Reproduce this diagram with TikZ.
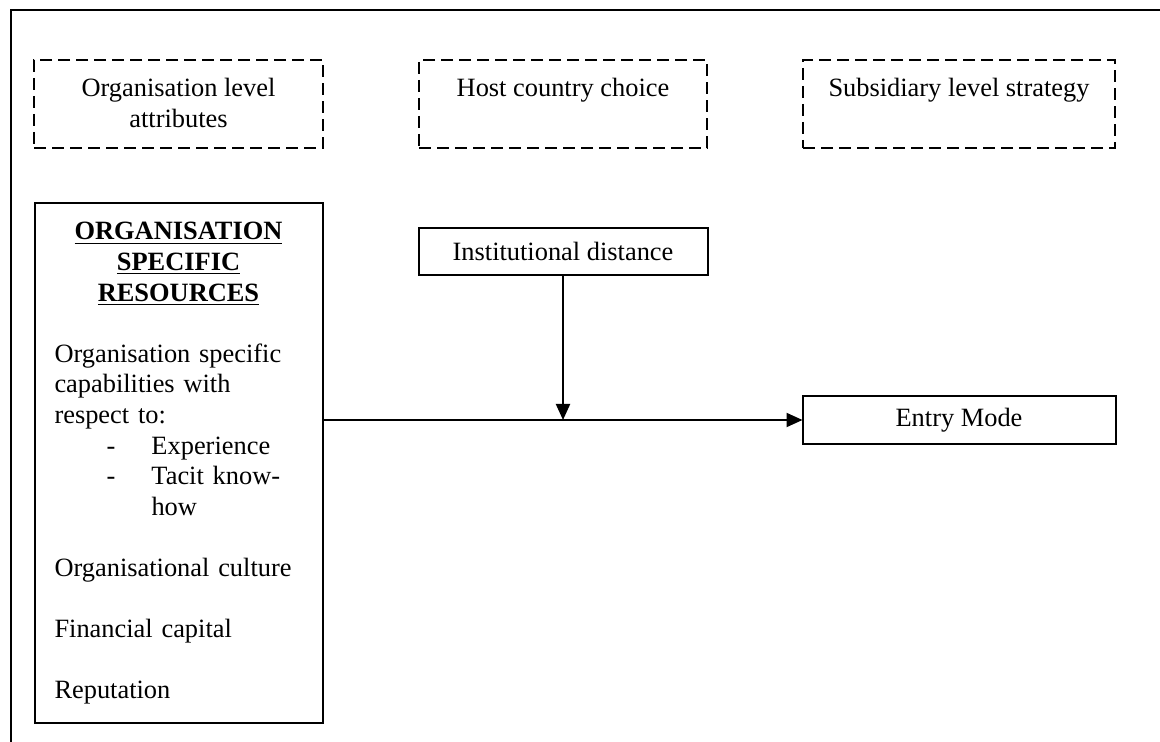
\documentclass[tikz,border=0pt]{standalone}
\usepackage{fontspec}
\setmainfont{Liberation Serif}
\usepackage{tikz}
\usetikzlibrary{arrows.meta, calc, positioning}
\tikzset{
	level/.style={draw, dash pattern=on 6pt off 3pt, line width=1pt, align=center, outer sep=0pt,
		inner ysep=7pt, text height=11.5pt, text depth=18.5pt},
	solidbox/.style={draw, line width=1pt, outer sep=0pt, minimum height=23.5pt},
	flow/.style={line width=1pt, -{Triangle[length=8pt,width=7pt]}}
}
\newcommand{\hd}[1]{\underline{\textbf{#1}}}
\newcommand{\dashitem}[1]{\makebox[48.5pt][l]{\hspace*{26pt}-}#1}

\begin{document}
\begin{tikzpicture}[
	x=0.5pt, y=-0.5pt,
	font=\fontsize{13.2pt}{15.3pt}\selectfont,
	node distance=48pt]
	\useasboundingbox (0,0) rectangle (1160,742);
	\draw[line width=0.75pt] (1160,10) -- (11,10) -- (11,742);
	% top row
	\node[level, anchor=north west, minimum width=144.5pt, text height=26.8pt, text depth=3.2pt] (orglevel) at (34,60) {Organisation level\\attributes};
	\node[level, minimum width=144pt, right=of orglevel] (host) {Host country choice};
	\node[level, minimum width=156pt, right=of host] (sub) {Subsidiary level strategy};
	% model
	\node[draw, line width=1pt, outer sep=0pt, below=27.5pt of orglevel, text width=124pt, align=left,
		inner xsep=10pt, inner ysep=7pt, text height=11.5pt, text depth=234.5pt] (osr)
		{{\centering\hd{ORGANISATION}\\\hd{SPECIFIC}\\\hd{RESOURCES}\par}
		\vspace{\baselineskip}
		Organisation specific\\
		capabilities with\\
		respect to:\\
		\dashitem{Experience}\\
		\dashitem{Tacit know-}\\
		\hspace*{48.5pt}how\\[\baselineskip]
		Organisational culture\\[\baselineskip]
		Financial capital\\[\baselineskip]
		Reputation};
	\node[solidbox, minimum width=144.5pt, below=40pt of host] (inst) {Institutional distance};
	\node[solidbox, minimum width=156.5pt, minimum height=24pt, below=124pt of sub] (em) {Entry Mode};
	\draw[flow] (em.west -| osr.east) -- (em.west);
	\draw[flow] (inst.south) -- (inst.south |- em.west);
\end{tikzpicture}
\end{document}
